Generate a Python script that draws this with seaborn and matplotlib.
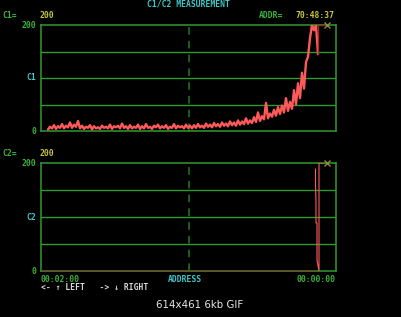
import numpy as np
import matplotlib
matplotlib.use("Agg")
import matplotlib.pyplot as plt
import seaborn as sns

# ---------------- data ----------------
c1_values = [
    3, 8, 5, 11, 4, 9, 6, 13, 5, 10,
    7, 16, 6, 12, 8, 19, 5, 10, 4, 8,
    6, 11, 3, 9, 5, 7, 4, 10, 6, 8,
    5, 12, 4, 9, 7, 10, 5, 14, 6, 9,
    4, 11, 5, 8, 6, 12, 4, 9, 5, 13,
    6, 8, 4, 10, 7, 12, 5, 9, 6, 11,
    4, 8, 6, 13, 5, 10, 7, 9, 5, 12,
    6, 10,
    5, 11, 6, 13, 7, 10, 6, 14, 8, 12,
    7, 15, 9, 13, 8, 16, 10, 14, 9, 18,
    11, 16, 10, 20, 12, 18, 13, 24, 14, 20,
    15, 26, 17, 35, 19, 28, 22, 53, 24, 33,
    27, 40, 29, 45, 32, 48, 35, 62, 38, 55,
    42, 77, 50, 90, 62, 110, 80, 130, 140, 175, 200, 190, 200, 145,
]
c1_start, c1_step = 7, 2
c1_addr = [c1_start + c1_step * i for i in range(len(c1_values))]
c1_hold_addr = [277, 277, 284]
c1_hold_vals = [145, 200, 200]

c2_base_addr = [0, 274]
c2_base_vals = [0, 0]
c2_spike_addr = [274.5, 274.5, 275, 275, 276, 276, 278, 278, 284]
c2_spike_vals = [189, 161, 124, 89, 89, 20, 0, 200, 200]

cursor_addr = 286
cursor_val = 200
grid_levels = [50, 100, 150]
marker_addr = 148
x_range = (0, 295)
y_range = (0, 200)

header_title = "C1/C2 MEASUREMENT"
x_left_label, x_mid_label, x_right_label = "00:02:00", "ADDRESS", "00:00:00"
nav_text = "<- \u2191 LEFT   -> \u2193 RIGHT"
caption = "614x461 6kb GIF"

# ---------------- style ----------------
sns.set_style("dark", {"axes.facecolor": "black", "figure.facecolor": "black"})
plt.rcParams["font.family"] = ["DejaVu Sans Mono", "DejaVu Sans"]

GREEN = "#3cb43c"
FRAME = "#2f9a2f"
DGREEN = "#217a21"
CYAN = "#40c8c8"
YELLOW = "#c8c83c"
RED = "#ff5a5a"
DRED = "#a02828"
OLIVE = "#8c8c3c"
FS = 5.8

W, H = 402, 317
fig = plt.figure(figsize=(W / 100, H / 100), dpi=100)


def fx(px):
    return px / W


def fy(py):
    return 1 - py / H


def txt(px, py, s, color, ha="left", fs=FS, weight="bold", family=None):
    kw = {}
    if family:
        kw["family"] = family
    fig.text(fx(px), fy(py), s, color=color, ha=ha, va="center",
             fontsize=fs, fontweight=weight, **kw)


def make_axes(top, bottom):
    ax = fig.add_axes([fx(41), fy(bottom), fx(336) - fx(41), fy(top) - fy(bottom)])
    ax.set_facecolor("black")
    ax.set_xlim(*x_range)
    ax.set_ylim(*y_range)
    ax.set_xticks([])
    ax.set_yticks([])
    ax.grid(False)
    for sp in ax.spines.values():
        sp.set_visible(True)
        sp.set_color(FRAME)
        sp.set_linewidth(1.1)
    for lv in grid_levels:
        ax.axhline(lv, color=FRAME, lw=1.0, zorder=1)
    ax.axvline(marker_addr, color=DGREEN, lw=1.1, ls=(0, (5, 4)), zorder=1)
    return ax


ax1 = make_axes(25, 131)
ax2 = make_axes(163, 271)

# top series
sns.lineplot(x=c1_addr, y=c1_values, ax=ax1, color=RED, lw=1.7,
             sort=False, estimator=None, zorder=3)
sns.lineplot(x=c1_hold_addr, y=c1_hold_vals, ax=ax1, color=DRED, lw=1.0,
             sort=False, estimator=None, zorder=3)
ax1.plot([cursor_addr], [cursor_val], marker="x", color=OLIVE, ms=5, mew=1,
         clip_on=False, zorder=4)

# bottom series
sns.lineplot(x=c2_base_addr, y=c2_base_vals, ax=ax2, color=DRED, lw=1.2,
             sort=False, estimator=None, zorder=3)
sns.lineplot(x=c2_spike_addr, y=c2_spike_vals, ax=ax2, color=RED, lw=0.8,
             sort=False, estimator=None, zorder=3)
ax2.plot([cursor_addr], [cursor_val], marker="x", color=OLIVE, ms=5, mew=1,
         clip_on=False, zorder=4)
for ax in (ax1, ax2):
    ax.set_xlabel("")
    ax.set_ylabel("")

# header texts
txt(188, 4, header_title, CYAN, ha="center")
txt(2, 15, "C1=", GREEN)
txt(40, 15, "200", YELLOW)
txt(259, 15, "ADDR=", GREEN)
txt(296, 15, "70:48:37", YELLOW)
txt(2, 153, "C2=", GREEN)
txt(40, 153, "200", YELLOW)

# y labels
txt(36, 26, "200", GREEN, ha="right")
txt(36, 78, "C1", CYAN, ha="right")
txt(36, 131, "0", GREEN, ha="right")
txt(36, 164, "200", GREEN, ha="right")
txt(36, 217, "C2", CYAN, ha="right")
txt(36, 271, "0", GREEN, ha="right")

# x labels
txt(41, 279, x_left_label, GREEN)
txt(185, 279, x_mid_label, CYAN, ha="center")
txt(336, 279, x_right_label, GREEN, ha="right")
txt(41, 287, nav_text, "#d8d8d8")

txt(200, 305, caption, "#e6e6e6", ha="center", fs=7.4, weight="normal",
    family=["DejaVu Sans"])

fig.savefig("out.png", dpi=100, facecolor="black")
